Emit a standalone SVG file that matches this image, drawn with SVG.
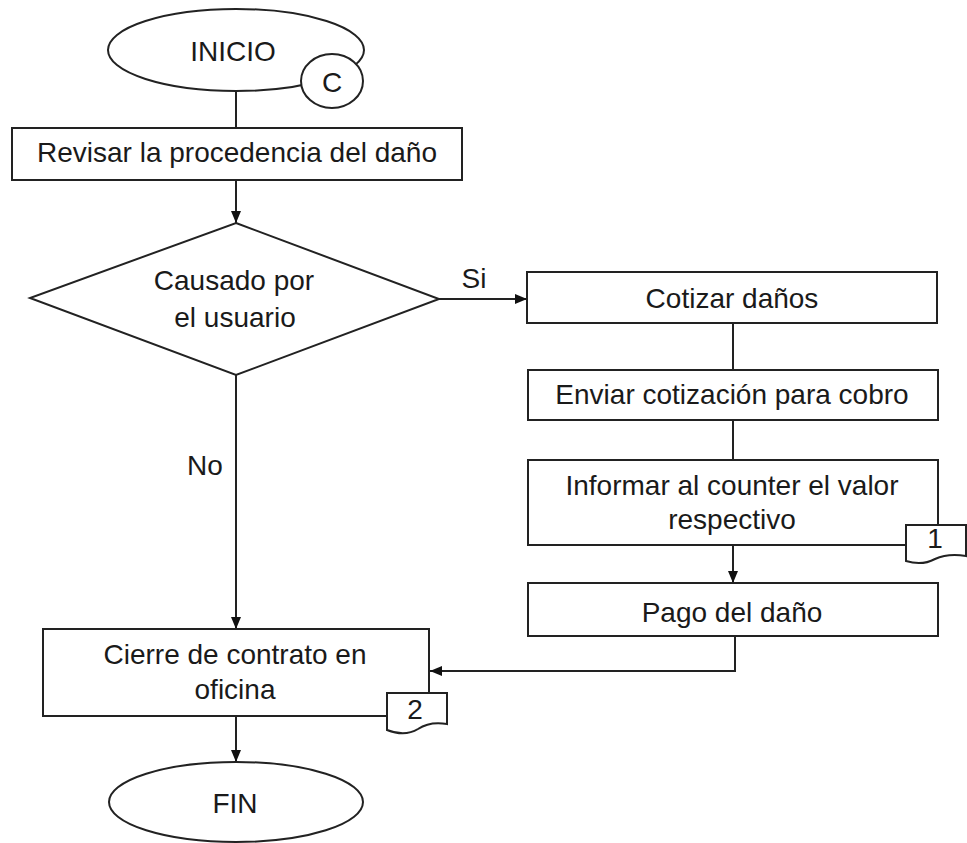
<svg xmlns="http://www.w3.org/2000/svg" width="967" height="843" viewBox="0 0 967 843">
<defs>
<marker id="arr" viewBox="0 0 12 10" refX="12" refY="5" markerWidth="12" markerHeight="10" markerUnits="userSpaceOnUse" orient="auto">
<path d="M0,0 L12,5 L0,10 Z" fill="#111"/>
</marker>
</defs>
<style>
.shape{fill:#fff;stroke:#222;stroke-width:2}
.t{font-family:"Liberation Sans",Arial,sans-serif;font-size:28px;fill:#1a1a1a;text-anchor:middle}
.c{fill:none;stroke:#222;stroke-width:2}
</style>
<rect width="967" height="843" fill="#fff"/>
<g id="connectors">
<line class="c" x1="236" y1="92" x2="236" y2="128"/>
<line class="c" x1="236" y1="180" x2="236" y2="223" marker-end="url(#arr)"/>
<line class="c" x1="439" y1="299" x2="527" y2="299" marker-end="url(#arr)"/>
<line class="c" x1="733" y1="323" x2="733" y2="370"/>
<line class="c" x1="733" y1="420" x2="733" y2="460"/>
<line class="c" x1="733" y1="545" x2="733" y2="583" marker-end="url(#arr)"/>
<polyline class="c" points="735,636 735,671 430,671" marker-end="url(#arr)"/>
<line class="c" x1="236" y1="375" x2="236" y2="629" marker-end="url(#arr)"/>
<line class="c" x1="236" y1="716" x2="236" y2="762" marker-end="url(#arr)"/>
<text class="t" x="474" y="288">Si</text>
<text class="t" x="205" y="475">No</text>
</g>
<g id="inicio">
<ellipse class="shape" cx="236" cy="50" rx="128" ry="41"/>
<text class="t" x="233" y="61">INICIO</text>
<ellipse class="shape" cx="332" cy="81" rx="31" ry="27"/>
<text class="t" x="332" y="92">C</text>
</g>
<g id="revisar">
<rect class="shape" x="12" y="128" width="450" height="52"/>
<text class="t" x="237" y="162">Revisar la procedencia del daño</text>
</g>
<g id="decision">
<polygon class="shape" points="236,223 439,299 236,375 30,298"/>
<text class="t" x="234" y="290">Causado por</text>
<text class="t" x="235" y="327">el usuario</text>
</g>
<g id="cotizar">
<rect class="shape" x="527" y="272" width="410" height="51"/>
<text class="t" x="732" y="308">Cotizar daños</text>
</g>
<g id="enviar">
<rect class="shape" x="528" y="370" width="410" height="50"/>
<text class="t" x="732" y="404">Enviar cotización para cobro</text>
</g>
<g id="informar">
<rect class="shape" x="528" y="460" width="410" height="85"/>
<text class="t" x="732" y="495">Informar al counter el valor</text>
<text class="t" x="732" y="529">respectivo</text>
<path class="shape" d="M906,525 H966 V556 Q948,553 935,559 Q922,566 906,561 Z"/>
<text class="t" x="935" y="548">1</text>
</g>
<g id="pago">
<rect class="shape" x="528" y="583" width="410" height="53"/>
<text class="t" x="732" y="622">Pago del daño</text>
</g>
<g id="cierre">
<rect class="shape" x="43" y="629" width="386" height="87"/>
<text class="t" x="235" y="664">Cierre de contrato en</text>
<text class="t" x="235" y="699">oficina</text>
<path class="shape" d="M387,693 H447 V724 Q430,721 418,729 Q405,737 387,730 Z"/>
<text class="t" x="415" y="719">2</text>
</g>
<g id="fin">
<ellipse class="shape" cx="236" cy="802" rx="127" ry="40"/>
<text class="t" x="235" y="813">FIN</text>
</g>
</svg>
